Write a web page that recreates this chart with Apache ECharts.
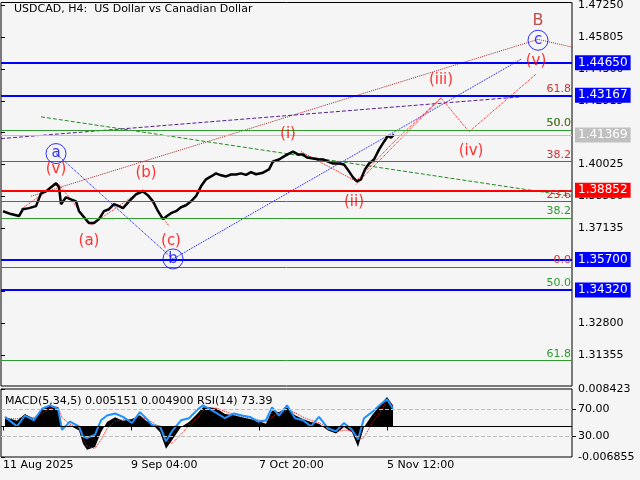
<!DOCTYPE html>
<html><head><meta charset="utf-8">
<script src="https://cdn.jsdelivr.net/npm/echarts@6/dist/echarts.min.js"></script>
<style>html,body{margin:0;padding:0;background:#f5f5f5}#c{width:640px;height:480px}</style>
</head><body><div id="c"></div>
<script>
// ---- data ----
const priceX = [2,10,18,22,28,35,40,45,50,55,57,58,60,65,70,75,78,82,88,93,98,103,108,113,118,122,128,135,142,147,152,157,162,166,170,175,180,185,190,195,200,205,210,215,220,225,230,235,240,245,250,255,262,268,272,278,283,288,292,297,302,306,312,318,322,327,332,338,343,348,352,356,360,364,368,373,378,383,387,390,393];
const priceY = [1.3790,1.3777,1.3768,1.3799,1.3804,1.3813,1.3871,1.3880,1.3899,1.3917,1.3926,1.3899,1.3822,1.3853,1.3844,1.3835,1.3790,1.3768,1.3736,1.3736,1.3754,1.3790,1.3799,1.3822,1.3813,1.3804,1.3835,1.3867,1.3880,1.3862,1.3835,1.3790,1.3754,1.3768,1.3781,1.3790,1.3808,1.3817,1.3835,1.3858,1.3903,1.3935,1.3948,1.3962,1.3953,1.3948,1.3957,1.3957,1.3962,1.3955,1.3968,1.3958,1.3965,1.3980,1.4016,1.4025,1.4039,1.4052,1.4061,1.4048,1.4048,1.4034,1.4030,1.4025,1.4025,1.4016,1.4007,1.4007,1.4002,1.3971,1.3944,1.3926,1.3935,1.3980,1.4007,1.4025,1.4070,1.4106,1.4133,1.4124,1.4138];
const indX = [4,16,24,33,41,49,57,61,69,78,82,86,94,100,106,114,122,131,139,145,151,159,165,171,180,188,196,202,208,216,224,233,241,249,257,265,271,278,286,294,302,310,318,327,335,343,351,357,363,371,380,386,392];
const macd = [0.0021,0.0013,0.0028,0.0017,0.0040,0.0047,0.0043,-0.0001,0.0002,-0.0009,-0.0039,-0.0052,-0.0046,-0.0013,0.0010,0.0021,0.0013,0.0017,0.0025,0.0013,0.0006,-0.0013,-0.0050,-0.0031,-0.0001,0.0010,0.0028,0.0043,0.0043,0.0040,0.0028,0.0025,0.0021,0.0017,0.0013,0.0006,0.0036,0.0032,0.0043,0.0025,0.0017,0.0010,0.0006,-0.0009,-0.0016,-0.0001,-0.0013,-0.0046,-0.0001,0.0025,0.0051,0.0066,0.0047];
const signal = [0.0018,0.0017,0.0022,0.0020,0.0030,0.0041,0.0044,0.0020,0.0005,-0.0003,-0.0025,-0.0045,-0.0049,-0.0030,-0.0005,0.0012,0.0015,0.0016,0.0021,0.0017,0.0010,-0.0003,-0.0030,-0.0038,-0.0018,0.0003,0.0018,0.0035,0.0042,0.0041,0.0034,0.0027,0.0023,0.0019,0.0015,0.0010,0.0022,0.0030,0.0038,0.0031,0.0021,0.0014,0.0008,-0.0002,-0.0012,-0.0008,-0.0010,-0.0030,-0.0025,0.0008,0.0035,0.0058,0.0049];
const rsi = [59,45,61,54,71,76,71,40,52,45,30,28,33,54,61,64,59,50,66,57,47,45,23,38,54,57,69,76,71,64,57,64,61,59,52,54,73,61,76,57,54,45,59,42,38,50,40,26,57,66,78,85,71];
const yTicks = [1.31355,1.328,1.34245,1.3569,1.37135,1.3858,1.40025,1.4147,1.42915,1.4436,1.45805,1.4725];
const xTickPos = [2,130,258,386];
const xTickLabels = ['11 Aug 2025','9 Sep 04:00','7 Oct 20:00','5 Nov 12:00'];
const tagLevels = [1.44650,1.43167,1.41369,1.38852,1.35700,1.34320];
const tagColors = ['#0000ff','#0000ff','#c0c0c0','#ff0000','#0000ff','#0000ff'];
const fibBrown = [[1.4314,'61.8'],[1.4160,'50.0'],[1.4016,'38.2'],[1.3835,'23.6'],[1.3537,'0.0']];
const fibGreen = [[1.4160,'50.0'],[1.3759,'38.2'],[1.3432,'50.0'],[1.3113,'61.8']];
const brownLine = [[30,1.3858],[537,1.4571],[572,1.4535]];
const blueLine1 = [[55,1.4052],[172,1.3573],[520,1.4481]];
const greenLine = [[40,1.4219],[570,1.3858]];
const purpleLine = [[0,1.4120],[520,1.4310]];
const redProj = [[393,1.4106],[440,1.4305],[468,1.4151],[535,1.4413]];
const redProj2 = [[355,1.3912],[440,1.4305]];
const redEarly = [[20,1.3799],[57,1.3917],[90,1.3727],[142,1.3889],[168,1.3722]];
const redMid = [[300,1.4061],[355,1.3926],[393,1.4106]];
const circLabels = [['a',55,1.4052],['b',172,1.3573],['c',537,1.4567]];
const redLabels = [['(v)',55,1.3980],['(b)',145,1.3962],['(a)',88,1.3655],['(c)',170,1.3655],['(i)',287,1.4142],['(ii)',353,1.3831],['(iii)',440,1.4386],['(iv)',470,1.4061],['(v)',535,1.4472]];
const bLabel = [['B',537,1.4653]];

const F = 'DejaVu Sans';
const chart = echarts.init(document.getElementById('c'));
const dash=(name,data,color,type)=>({type:'line',name,data,symbol:'none',xAxisIndex:0,yAxisIndex:0,lineStyle:{color,width:1,type},z:3,silent:true});
const fibItem=(v,color)=>({yAxis:v[0],lineStyle:{color,width:1,type:'solid',opacity:1},label:{show:true,formatter:v[1],position:'insideEndTop',color,fontFamily:F,fontSize:11,distance:1}});
chart.setOption({
  animation:false,backgroundColor:'#f5f5f5',
  graphic:[
    {type:'text',left:14,top:4,style:{text:'USDCAD, H4:  US Dollar vs Canadian Dollar',font:'11px DejaVu Sans',fill:'#000'}},
    {type:'text',left:5,top:396,style:{text:'MACD(5,34,5) 0.005151 0.004900 RSI(14) 73.39',font:'11px DejaVu Sans',fill:'#000'}}
  ],
  grid:[{left:1,right:68,top:1,height:385,show:true,borderColor:'#000',borderWidth:1},
        {left:1,right:68,top:389,height:68,show:true,borderColor:'#000',borderWidth:1}],
  xAxis:[{type:'value',gridIndex:0,min:0,max:571,axisLine:{show:false},axisTick:{show:false},axisLabel:{show:false},splitLine:{show:false}},
         {type:'value',gridIndex:1,min:0,max:571,axisLine:{show:false},splitLine:{show:false},
          axisTick:{show:true,customValues:xTickPos,length:4,lineStyle:{color:'#000'}},
          axisLabel:{customValues:xTickPos,align:'left',margin:3,fontFamily:F,fontSize:11,color:'#000',formatter:v=>xTickLabels[xTickPos.indexOf(v)]}}],
  yAxis:[{type:'value',gridIndex:0,position:'right',min:1.29955,max:1.47385,splitLine:{show:false},axisLine:{show:false},
          axisTick:{show:true,customValues:yTicks,length:4,lineStyle:{color:'#000'}},
          axisLabel:{customValues:yTicks,formatter:v=>v.toFixed(5),fontFamily:F,fontSize:11,color:'#000',margin:6}},
         {type:'value',gridIndex:1,position:'right',min:-0.006855,max:0.008423,splitLine:{show:false},axisLine:{show:false},
          axisTick:{show:true,customValues:[-0.006855,0.008423],length:4,lineStyle:{color:'#000'}},
          axisLabel:{customValues:[-0.006855,0.008423],formatter:v=>v.toFixed(6),fontFamily:F,fontSize:11,color:'#000',margin:6}},
         {type:'value',gridIndex:1,position:'right',min:0,max:100,splitLine:{show:false},axisLine:{show:false},
          axisTick:{show:true,customValues:[30,70],length:4,lineStyle:{color:'#000'}},
          axisLabel:{customValues:[30,70],formatter:v=>v.toFixed(2),fontFamily:F,fontSize:11,color:'#000',margin:6}}],
  series:[
    dash('brown',brownLine,'#a52a2a','dotted'),
    dash('blue',blueLine1,'#0000ff','dotted'),
    dash('green',greenLine,'#228b22','dashed'),
    dash('purple',purpleLine,'#5a1e96','dashed'),
    dash('red1',redProj,'#ff0000','dotted'),
    dash('red2',redProj2,'#ff0000','dotted'),
    dash('red3',redEarly,'#ff0000','dotted'),
    dash('red4',redMid,'#ff0000','dotted'),
    {type:'line',name:'price',data:priceX.map((x,i)=>[x,priceY[i]]),symbol:'none',lineStyle:{color:'#000',width:2.5},z:4,xAxisIndex:0,yAxisIndex:0,
     markLine:{symbol:'none',silent:true,animation:false,precision:5,data:[
       ...fibBrown.map(v=>fibItem(v,'#cc3333')),
       ...fibGreen.map(v=>fibItem(v,'#2e9b2e')),
       ...tagLevels.map((v,i)=>({yAxis:v,lineStyle:{color:tagColors[i],width:i==2?1:2,type:'solid'},
         label:{show:true,position:'end',formatter:v.toFixed(5),color:'#fff',backgroundColor:tagColors[i],padding:[2,3,1,3],fontFamily:F,fontSize:12,distance:3}}))
     ]}},
    {type:'scatter',data:circLabels.map(v=>[v[1],v[2]]),symbol:'circle',symbolSize:20,itemStyle:{color:'rgba(0,0,0,0)',borderColor:'#0000ff',borderWidth:1},
     label:{show:true,position:'inside',color:'#0000ff',fontFamily:F,fontSize:15,formatter:p=>circLabels[p.dataIndex][0]},z:5,xAxisIndex:0,yAxisIndex:0},
    {type:'scatter',data:redLabels.map(v=>[v[1],v[2]]),symbolSize:0,
     label:{show:true,position:'inside',color:'#ff0000',fontFamily:F,fontSize:15,formatter:p=>redLabels[p.dataIndex][0]},z:5,xAxisIndex:0,yAxisIndex:0},
    {type:'scatter',data:bLabel.map(v=>[v[1],v[2]]),symbolSize:0,
     label:{show:true,position:'inside',color:'#b22222',fontFamily:F,fontSize:16,formatter:'B'},z:5,xAxisIndex:0,yAxisIndex:0},
    {type:'line',name:'macd',data:indX.map((x,i)=>[x,macd[i]]),xAxisIndex:1,yAxisIndex:1,symbol:'none',lineStyle:{width:0},areaStyle:{color:'#000',opacity:1},
     markLine:{symbol:'none',silent:true,data:[{yAxis:0,lineStyle:{color:'#000',width:1,type:'solid'},label:{show:false}}]}},
    {type:'line',name:'signal',data:indX.map((x,i)=>[x,signal[i]]),xAxisIndex:1,yAxisIndex:1,symbol:'none',lineStyle:{color:'#ff0000',width:1,type:'dotted'}},
    {type:'line',name:'rsi',data:indX.map((x,i)=>[x,rsi[i]]),xAxisIndex:1,yAxisIndex:2,symbol:'none',lineStyle:{color:'#1e90ff',width:2},
     markLine:{symbol:'none',silent:true,data:[30,70].map(v=>({yAxis:v,lineStyle:{color:'#c0c0c0',width:1,type:'dashed'},label:{show:false}}))}}
  ]
});
</script></body></html>
